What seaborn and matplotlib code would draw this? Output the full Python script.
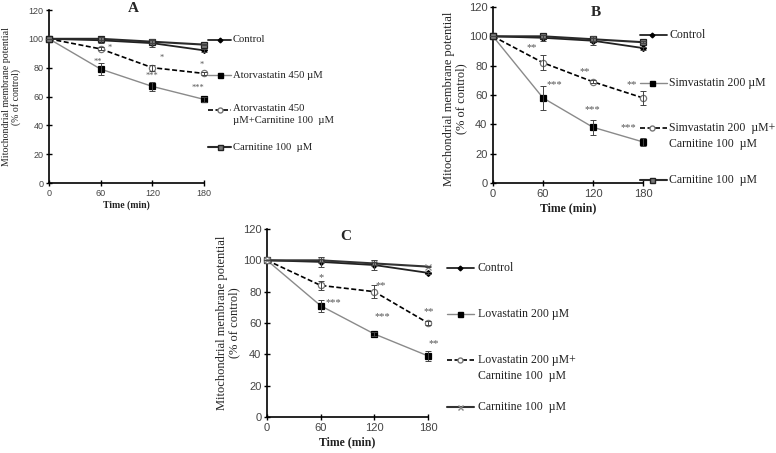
import numpy as np
import pandas as pd
import matplotlib
matplotlib.use("Agg")
import matplotlib.pyplot as plt
from matplotlib.lines import Line2D
import seaborn as sns

# ---------------- data ----------------
time = [0, 60, 120, 180]

A_control = [100, 99, 97, 92]
A_control_err = [0, 2, 3, 1]
A_statin = [100, 79, 67, 58]
A_statin_err = [0, 4, 3, 1.5]
A_combo = [100, 93, 80, 76]
A_combo_err = [0, 1, 2, 1]
A_carn = [100, 100, 98, 96]
A_carn_err = [0, 1, 1, 0.5]

B_control = [100, 99, 97, 92]
B_control_err = [0, 2, 3, 1]
B_statin = [100, 58, 38, 28]
B_statin_err = [0, 8, 5, 3]
B_combo = [100, 82, 69, 58]
B_combo_err = [0, 5, 1, 5]
B_carn = [100, 100, 98, 96]
B_carn_err = [0, 1, 1, 0.5]

C_control = [100, 99, 97, 92]
C_control_err = [0, 3, 3, 0.5]
C_statin = [100, 71, 53, 39]
C_statin_err = [0, 4, 1, 3]
C_combo = [100, 84, 80, 60]
C_combo_err = [0, 3, 4, 1]
C_carn = [100, 100, 98, 96]
C_carn_err = [0, 1, 1, 0.5]

A_labels = ["Control", "Atorvastatin 450 \u00b5M",
            "Atorvastatin 450\n\u00b5M+Carnitine 100  \u00b5M", "Carnitine 100  \u00b5M"]
B_labels = ["Control", "Simvastatin 200 \u00b5M",
            "Simvastatin 200  \u00b5M+\nCarnitine 100  \u00b5M", "Carnitine 100  \u00b5M"]
C_labels = ["Control", "Lovastatin 200 \u00b5M",
            "Lovastatin 200 \u00b5M+\nCarnitine 100  \u00b5M", "Carnitine 100  \u00b5M"]

A_stars_x = [57, 70, 131, 120, 177, 173]
A_stars_y = [84, 94, 87, 74, 82, 66]
A_stars_t = ["**", "*", "*", "***", "*", "***"]
B_stars_x = [46, 74, 110, 119, 167, 163]
B_stars_y = [92, 67, 76, 50, 67, 38]
B_stars_t = ["**", "***", "**", "***", "**", "***"]
C_stars_x = [60, 74, 127, 129, 181, 186]
C_stars_y = [89, 73, 84, 64, 67, 47]
C_stars_t = ["*", "***", "**", "***", "**", "**"]

# ---------------- style ----------------
sns.set_theme(style="white")
plt.rcParams['font.family'] = ['Liberation Serif', 'DejaVu Serif']

W, H = 776, 453
fig = plt.figure(figsize=(W / 100, H / 100), dpi=100)

def fx(px):
    return px / W

def fy(py):
    return 1 - py / H

def styles(carn_marker):
    return [
        dict(color="#222222", lw=1.3, ls="-", marker="D", ms=3, mfc="#000000", mec="#000000"),
        dict(color="#8a8a8a", lw=1.0, ls="-", marker="s", ms=4.5, mfc="#000000", mec="#000000"),
        dict(color="#000000", lw=1.2, ls=(0, (3, 1.5)), marker="o", ms=4.5, mfc="white", mec="#777777"),
        carn_marker,
    ]

carnA = dict(color="#2a2a2a", lw=1.5, ls="-", marker="s", ms=4.5, mfc="#777777", mec="#222222")
carnC = dict(color="#333333", lw=1.5, ls="-", marker="x", ms=4.5, mfc="#888888", mec="#888888")

panels = [
    dict(name="A", box=(49, 10, 204, 183),
         series=[(A_control, A_control_err), (A_statin, A_statin_err),
                 (A_combo, A_combo_err), (A_carn, A_carn_err)],
         labels=A_labels, stars=(A_stars_x, A_stars_y, A_stars_t),
         sty=styles(carnA), fs=7.0, yfs=7.1, tfs=6.5, lfs=7.7,
         ylab=(21, 0.5), xlab_pad=2, title=(133, 8),
         leg=dict(x0=208, x1=231, xm=220, xt=233, ys=[40, 75, 110, 147])),
    dict(name="B", box=(493, 7, 643, 183),
         series=[(B_control, B_control_err), (B_statin, B_statin_err),
                 (B_combo, B_combo_err), (B_carn, B_carn_err)],
         labels=B_labels, stars=(B_stars_x, B_stars_y, B_stars_t),
         sty=styles(carnA), fs=8.5, yfs=9, tfs=8, lfs=8.5,
         ylab=(467, 0.48), xlab_pad=3, title=(596, 12),
         leg=dict(x0=640, x1=667, xm=652, xt=669, ys=[35, 83, 128, 180])),
    dict(name="C", box=(267, 229, 428, 417),
         series=[(C_control, C_control_err), (C_statin, C_statin_err),
                 (C_combo, C_combo_err), (C_carn, C_carn_err)],
         labels=C_labels, stars=(C_stars_x, C_stars_y, C_stars_t),
         sty=styles(carnC), fs=8.5, yfs=9, tfs=8, lfs=8.5,
         ylab=(240, 0.5), xlab_pad=3, title=(346, 237),
         leg=dict(x0=447, x1=474, xm=460, xt=478, ys=[268, 314, 360, 407])),
]

for p in panels:
    l, t, r, b = p["box"]
    ax = fig.add_axes([fx(l), fy(b), fx(r - l), (b - t) / H])
    for (vals, errs), st in zip(p["series"], p["sty"]):
        df = pd.DataFrame({"time": time, "value": vals})
        sns.lineplot(data=df, x="time", y="value", ax=ax, color=st["color"],
                     linewidth=st["lw"], linestyle=st["ls"], marker=st["marker"],
                     markersize=st["ms"], markerfacecolor=st["mfc"],
                     markeredgecolor=st["mec"], markeredgewidth=0.9,
                     clip_on=False, zorder=3, legend=False)
        ax.errorbar(time, vals, yerr=errs, fmt="none", ecolor="#444444",
                    elinewidth=0.7, capsize=2, capthick=0.7, clip_on=False, zorder=4)
    sx, sy, stt = p["stars"]
    for x, y, s in zip(sx, sy, stt):
        ax.text(x, y, s, ha="center", va="center", fontsize=p["fs"] - 1,
                color="#555555", clip_on=False)
    ax.set_xlim(0, 180)
    ax.set_ylim(0, 120)
    ax.set_xticks(time)
    ax.set_yticks([0, 20, 40, 60, 80, 100, 120])
    for sp in ["top", "right"]:
        ax.spines[sp].set_visible(False)
    for sp in ["left", "bottom"]:
        ax.spines[sp].set_color("#000000")
        ax.spines[sp].set_linewidth(1.2)
    ax.tick_params(axis="both", direction="inout", length=4, width=1, color="#000000",
                   labelsize=p["tfs"], labelcolor="#444444", pad=2,
                   left=True, bottom=True)
    for lab in ax.get_xticklabels() + ax.get_yticklabels():
        lab.set_fontfamily(["Liberation Sans", "DejaVu Sans"])
    ax.set_xlabel("Time (min)", fontsize=p["fs"], fontweight="bold",
                  labelpad=p["xlab_pad"], color="#222222")
    ax.set_ylabel("Mitochondrial membrane potential\n(% of control)",
                  fontsize=p["yfs"], color="#222222", linespacing=1.05)
    ax.yaxis.set_label_coords((p["ylab"][0] - l) / (r - l), p["ylab"][1])
    fig.text(fx(p["title"][0]), fy(p["title"][1]), p["name"], ha="center", va="center",
             fontsize=11, fontweight="bold")
    lg = p["leg"]
    for st, lab, y in zip(p["sty"], p["labels"], lg["ys"]):
        fig.add_artist(Line2D([fx(lg["x0"]), fx(lg["x1"])], [fy(y), fy(y)],
                              transform=fig.transFigure, color=st["color"],
                              linewidth=st["lw"], linestyle=st["ls"]))
        fig.add_artist(Line2D([fx(lg["xm"])], [fy(y)], transform=fig.transFigure,
                              marker=st["marker"], markersize=st["ms"] * 0.8,
                              markerfacecolor=st["mfc"], markeredgecolor=st["mec"],
                              linestyle="none"))
        if "\n" in lab:
            fig.text(fx(lg["xt"]), fy(y - 6), lab, ha="left", va="top",
                     fontsize=p["lfs"], color="#222222", linespacing=1.4)
        else:
            fig.text(fx(lg["xt"]), fy(y), lab, ha="left", va="center",
                     fontsize=p["lfs"], color="#222222")

fig.savefig("out.png", dpi=100)
